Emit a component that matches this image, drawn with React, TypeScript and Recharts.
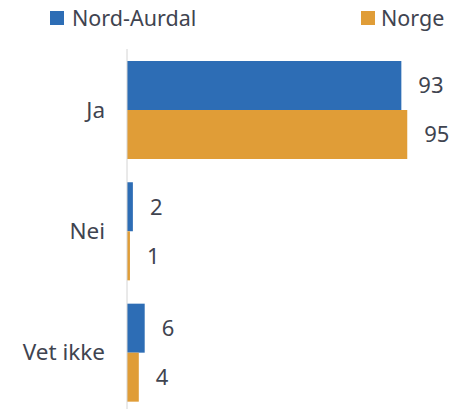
import { BarChart, Bar, XAxis, YAxis, Legend, LabelList } from "recharts";

// ── Data ───────────────────────────────────────────────────────────

const CATEGORIES = ["Ja", "Nei", "Vet ikke"];
const NORD_AURDAL = [93, 2, 6];
const NORGE = [95, 1, 4];

const SERIES = [
  { key: "nordAurdal", name: "Nord-Aurdal", color: "#2d6db5", values: NORD_AURDAL },
  { key: "norge", name: "Norge", color: "#e09d37", values: NORGE },
];

const rows = CATEGORIES.map((cat, i) => {
  const row: Record<string, string | number> = { cat };
  SERIES.forEach((s) => { row[s.key] = s.values[i]; });
  return row;
});

const FONT = "'Noto Sans', sans-serif";
const TEXT = "#3f4450";

function LegendBox() {
  return (
    <div style={{ position: "relative", width: 455, height: 40, fontFamily: FONT, fontSize: 21.5, color: TEXT }}>
      <div style={{ position: "absolute", left: 50, top: 3, display: "flex", alignItems: "center" }}>
        <span style={{ width: 14, height: 14, background: SERIES[0].color, marginRight: 8 }} />
        {SERIES[0].name}
      </div>
      <div style={{ position: "absolute", left: 361, top: 3, display: "flex", alignItems: "center" }}>
        <span style={{ width: 14, height: 14, background: SERIES[1].color, marginRight: 6 }} />
        {SERIES[1].name}
      </div>
    </div>
  );
}

export default function App() {
  return (
    <div style={{ position: "absolute", left: 0, top: 0 }}>
      <BarChart
        width={455}
        height={413}
        data={rows}
        layout="vertical"
        margin={{ top: 9, right: 33, bottom: 0, left: 0 }}
        barCategoryGap={12}
        barGap={0}
      >
        <XAxis type="number" domain={[0, 100]} hide />
        <YAxis
          type="category"
          dataKey="cat"
          width={127}
          tickLine={false}
          tickSize={0}
          tickMargin={22}
          axisLine={{ stroke: "#d4d4d4" }}
          tick={{ fontSize: 22.5, fill: TEXT, fontFamily: FONT }}
        />
        <Legend verticalAlign="top" align="left" height={40} wrapperStyle={{ top: 0, left: 0 }} content={() => <LegendBox />} />
        {SERIES.map((s) => (
          <Bar key={s.key} dataKey={s.key} name={s.name} fill={s.color} isAnimationActive={false}>
            <LabelList dataKey={s.key} position="right" offset={17} style={{ fontSize: 22, fill: TEXT, fontFamily: FONT }} />
          </Bar>
        ))}
      </BarChart>
    </div>
  );
}
